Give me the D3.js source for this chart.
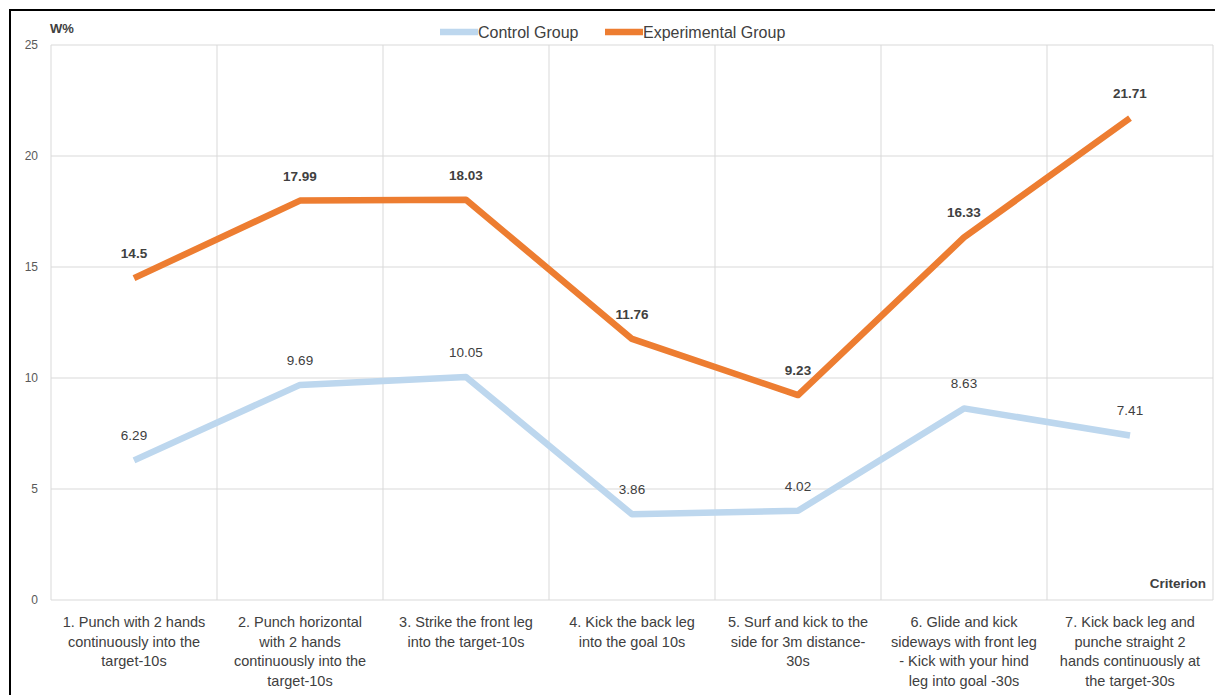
<!DOCTYPE html>
<html>
<head>
<meta charset="utf-8">
<script src="https://cdn.jsdelivr.net/npm/d3@7"></script>
<style>
  body { margin: 0; background: #fff; }
  text { font-family: "Liberation Sans", Arial, sans-serif; }
</style>
</head>
<body>
<script>
var categories = [
    ["1. Punch with 2 hands", "continuously into the", "target-10s"],
    ["2. Punch horizontal", "with 2 hands", "continuously into the", "target-10s"],
    ["3. Strike the front leg", "into the target-10s"],
    ["4. Kick the back leg", "into the goal 10s"],
    ["5. Surf and kick to the", "side for 3m distance-", "30s"],
    ["6. Glide and kick", "sideways with front leg", "- Kick with your hind", "leg into goal -30s"],
    ["7. Kick back leg and", "punche straight 2", "hands continuously at", "the target-30s"]
];
var controlValues = [6.29, 9.69, 10.05, 3.86, 4.02, 8.63, 7.41];
var experimentalValues = [14.5, 17.99, 18.03, 11.76, 9.23, 16.33, 21.71];
var yTicks = [0, 5, 10, 15, 20, 25];
var seriesNames = ["Control Group", "Experimental Group"];

function init(){
    var width = 1215, height = 695;
    var left = 51, right = 1213, top = 45, bottom = 600;

    var svg = d3.select("body").append("svg")
        .attr("width", width)
        .attr("height", height);

    // outer frame
    svg.append("rect")
        .attr("x", 10).attr("y", 10)
        .attr("width", 1215).attr("height", 700)
        .attr("fill", "none").attr("stroke", "#000").attr("stroke-width", 2);

    var x = d3.scaleBand()
        .domain(d3.range(categories.length))
        .range([left, right]);

    var y = d3.scaleLinear()
        .domain([0, 25])
        .range([bottom, top]);

    // horizontal grid
    svg.selectAll(".hgrid")
        .data(yTicks)
        .enter().append("line")
        .attr("x1", left).attr("x2", right)
        .attr("y1", function(d) { return y(d); })
        .attr("y2", function(d) { return y(d); })
        .attr("stroke", "#d9d9d9").attr("stroke-width", 1);

    // vertical grid
    svg.selectAll(".vgrid")
        .data(d3.range(categories.length + 1))
        .enter().append("line")
        .attr("x1", function(d) { return left + d * x.bandwidth(); })
        .attr("x2", function(d) { return left + d * x.bandwidth(); })
        .attr("y1", top).attr("y2", bottom)
        .attr("stroke", "#d9d9d9").attr("stroke-width", 1);

    // y axis labels
    var yAxis = d3.axisLeft(y).tickValues(yTicks).tickSize(0).tickPadding(10);
    var gy = svg.append("g")
        .attr("transform", "translate(" + (left - 3) + ",0)")
        .call(yAxis);
    gy.select(".domain").remove();
    gy.selectAll("text")
        .style("font-size", "12px")
        .attr("fill", "#595959");

    // x labels
    var xl = svg.selectAll(".xlab")
        .data(categories)
        .enter().append("text")
        .attr("text-anchor", "middle")
        .attr("font-size", "14.5px")
        .attr("fill", "#404040");
    xl.each(function(lines, i) {
        var t = d3.select(this);
        lines.forEach(function(l, j) {
            t.append("tspan")
                .attr("x", x(i) + x.bandwidth() / 2)
                .attr("y", 627 + j * 19.5)
                .text(l);
        });
    });

    var line = d3.line()
        .x(function(d, i) { return x(i) + x.bandwidth() / 2; })
        .y(function(d) { return y(d); });

    svg.append("path")
        .datum(controlValues)
        .attr("d", line)
        .attr("fill", "none")
        .attr("stroke", "#bdd7ee")
        .attr("stroke-width", 6.5)
        .attr("stroke-linejoin", "round");

    svg.append("path")
        .datum(experimentalValues)
        .attr("d", line)
        .attr("fill", "none")
        .attr("stroke", "#ed7d31")
        .attr("stroke-width", 6.5)
        .attr("stroke-linejoin", "round");

    // data labels
    svg.selectAll(".clab")
        .data(controlValues)
        .enter().append("text")
        .attr("x", function(d, i) { return x(i) + x.bandwidth() / 2; })
        .attr("y", function(d) { return y(d) - 20; })
        .attr("text-anchor", "middle")
        .attr("font-size", "13.5px")
        .attr("fill", "#404040")
        .text(function(d) { return d; });

    svg.selectAll(".elab")
        .data(experimentalValues)
        .enter().append("text")
        .attr("x", function(d, i) { return x(i) + x.bandwidth() / 2; })
        .attr("y", function(d) { return y(d) - 20; })
        .attr("text-anchor", "middle")
        .attr("font-size", "13.5px")
        .attr("font-weight", "bold")
        .attr("fill", "#404040")
        .text(function(d) { return d; });

    // axis titles
    svg.append("text")
        .attr("x", 50).attr("y", 33)
        .attr("font-size", "13px").attr("font-weight", "bold")
        .attr("fill", "#404040")
        .text("W%");

    svg.append("text")
        .attr("x", 1206).attr("y", 588)
        .attr("text-anchor", "end")
        .attr("font-size", "13.5px").attr("font-weight", "bold")
        .attr("fill", "#404040")
        .text("Criterion");

    // legend
    var legendColors = ["#bdd7ee", "#ed7d31"];
    var legendX = [440, 605];
    seriesNames.forEach(function(name, i) {
        svg.append("line")
            .attr("x1", legendX[i]).attr("x2", legendX[i] + 38)
            .attr("y1", 32).attr("y2", 32)
            .attr("stroke", legendColors[i]).attr("stroke-width", 6.5);
        svg.append("text")
            .attr("x", legendX[i] + 38).attr("y", 38)
            .attr("font-size", "16px")
            .attr("fill", "#404040")
            .text(name);
    });
}

window.onload = init;
</script>
</body>
</html>
